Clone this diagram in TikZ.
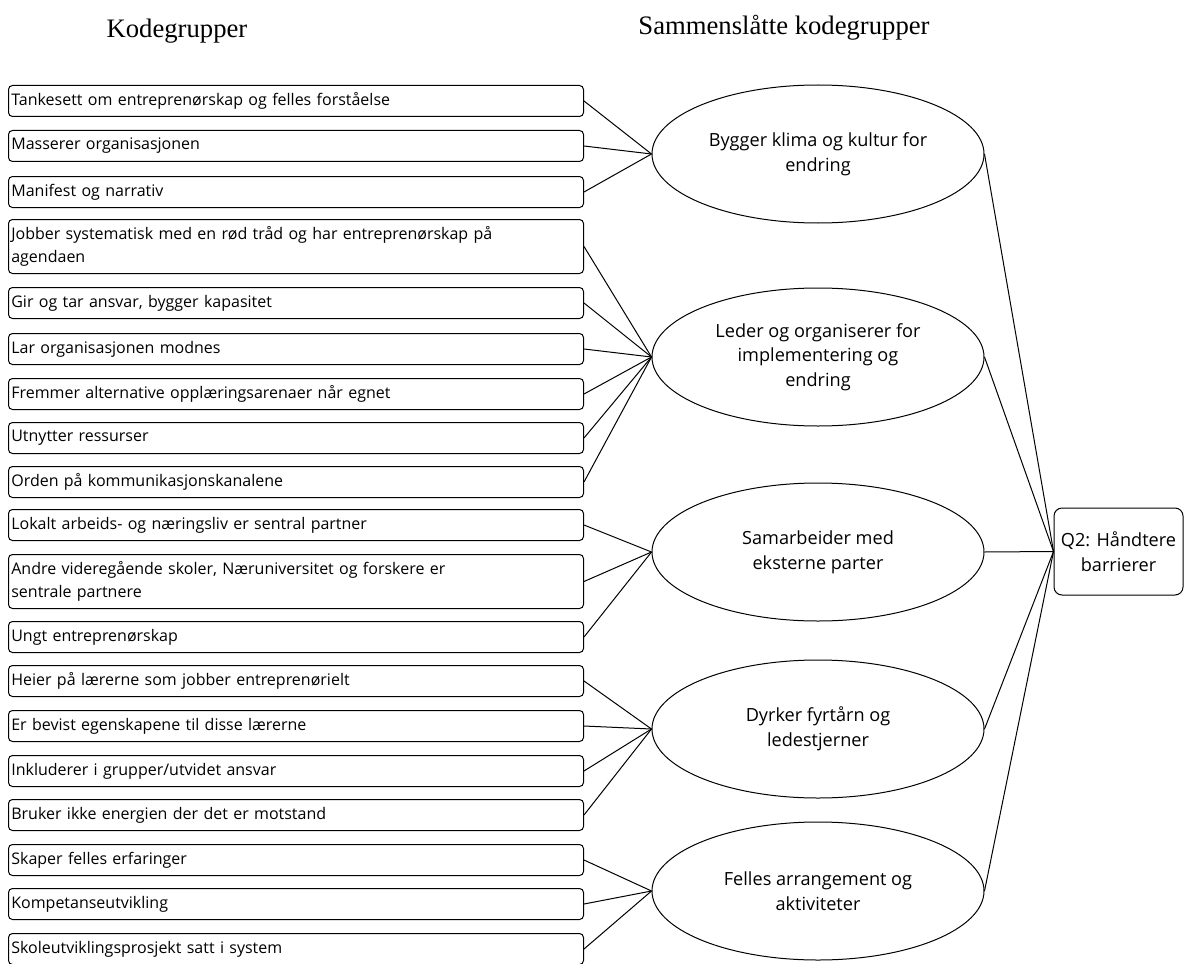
\documentclass[tikz,border=0pt]{standalone}
\usepackage{fontspec}
\setmainfont{Liberation Serif}
\newfontfamily\boksfont{Open Sans}
\usetikzlibrary{shapes.geometric}

\tikzset{
	kode/.style={draw, rounded corners=3pt, anchor=north west, line width=0.75pt,
		minimum width=431.25pt, minimum height=23.25pt, inner xsep=2pt, inner ysep=0pt,
		text width=427pt, align=left, font=\boksfont\fontsize{12}{17.5}\selectfont},
	kodeto/.style={kode, minimum height=40.5pt},
	samlet/.style={draw, ellipse, line width=0.75pt, minimum width=249pt, minimum height=103.5pt,
		inner sep=0pt, align=center, font=\boksfont\fontsize{13.6}{18.5}\selectfont},
	tema/.style={draw, rounded corners=6pt, line width=0.75pt, minimum width=96.75pt,
		minimum height=65.25pt, inner sep=0pt, align=center, font=\boksfont\fontsize{13.6}{18.5}\selectfont},
	kobling/.style={line width=0.75pt},
	tittel/.style={anchor=base, font=\fontsize{20}{24}\selectfont}
}

\begin{document}
\begin{tikzpicture}[x=0.75pt,y=-0.75pt]
		\useasboundingbox (0,0) rectangle (1184,963);
		
		\node[tittel] (t1) at (177,38) {Kodegrupper};
		\node[tittel] (t2) at (784,35) {Sammenslåtte kodegrupper};
		
		% kodegrupper
		\node[kode] (k1) at (8,85) {Tankesett om entreprenørskap og felles forståelse};
		\node[kode] (k2) at (8,130) {Masserer organisasjonen};
		\node[kode] (k3) at (8,176) {Manifest og narrativ};
		\node[kodeto] (k4) at (8,219) {Jobber systematisk med en rød tråd og har entreprenørskap på\\agendaen};
		\node[kode] (k5) at (8,287) {Gir og tar ansvar, bygger kapasitet};
		\node[kode] (k6) at (8,333) {Lar organisasjonen modnes};
		\node[kode] (k7) at (8,378) {Fremmer alternative opplæringsarenaer når egnet};
		\node[kode] (k8) at (8,422) {Utnytter ressurser};
		\node[kode] (k9) at (8,466) {Orden på kommunikasjonskanalene};
		\node[kode] (k10) at (8,509) {Lokalt arbeids- og næringsliv er sentral partner};
		\node[kodeto] (k11) at (8,554) {Andre videregående skoler, Næruniversitet og forskere er\\sentrale partnere};
		\node[kode] (k12) at (8,621) {Ungt entreprenørskap};
		\node[kode] (k13) at (8,665) {Heier på lærerne som jobber entreprenørielt};
		\node[kode] (k14) at (8,710) {Er bevist egenskapene til disse lærerne};
		\node[kode] (k15) at (8,755) {Inkluderer i grupper/utvidet ansvar};
		\node[kode] (k16) at (8,799) {Bruker ikke energien der det er motstand};
		\node[kode] (k17) at (8,844) {Skaper felles erfaringer};
		\node[kode] (k18) at (8,888) {Kompetanseutvikling};
		\node[kode] (k19) at (8,933) {Skoleutviklingsprosjekt satt i system};
		
		% sammenslåtte kodegrupper
		\node[samlet] (s1) at (818,154) {Bygger klima og kultur for\\endring};
		\node[samlet] (s2) at (818,357) {Leder og organiserer for\\implementering og\\endring};
		\node[samlet] (s3) at (818,552) {Samarbeider med\\eksterne parter};
		\node[samlet] (s4) at (818,729) {Dyrker fyrtårn og\\ledestjerner};
		\node[samlet] (s5) at (818,891) {Felles arrangement og\\aktiviteter};
		
		\node[tema] (q2) at (1118.5,551.5) {Q2: Håndtere\\barrierer};
		
		\draw[kobling] (k1.east) -- (s1.west);
		\draw[kobling] (k2.east) -- (s1.west);
		\draw[kobling] (k3.east) -- (s1.west);
		
		\draw[kobling] (k4.east) -- (s2.west);
		\draw[kobling] (k5.east) -- (s2.west);
		\draw[kobling] (k6.east) -- (s2.west);
		\draw[kobling] (k7.east) -- (s2.west);
		\draw[kobling] (k8.east) -- (s2.west);
		\draw[kobling] (k9.east) -- (s2.west);
		
		\draw[kobling] (k10.east) -- (s3.west);
		\draw[kobling] (k11.east) -- (s3.west);
		\draw[kobling] (k12.east) -- (s3.west);
		
		\draw[kobling] (k13.east) -- (s4.west);
		\draw[kobling] (k14.east) -- (s4.west);
		\draw[kobling] (k15.east) -- (s4.west);
		\draw[kobling] (k16.east) -- (s4.west);
		
		\draw[kobling] (k17.east) -- (s5.west);
		\draw[kobling] (k18.east) -- (s5.west);
		\draw[kobling] (k19.east) -- (s5.west);
		
		\draw[kobling] (s1.east) -- (q2.west);
		\draw[kobling] (s2.east) -- (q2.west);
		\draw[kobling] (s3.east) -- (q2.west);
		\draw[kobling] (s4.east) -- (q2.west);
		\draw[kobling] (s5.east) -- (q2.west);
		
	\end{tikzpicture}
\end{document}
